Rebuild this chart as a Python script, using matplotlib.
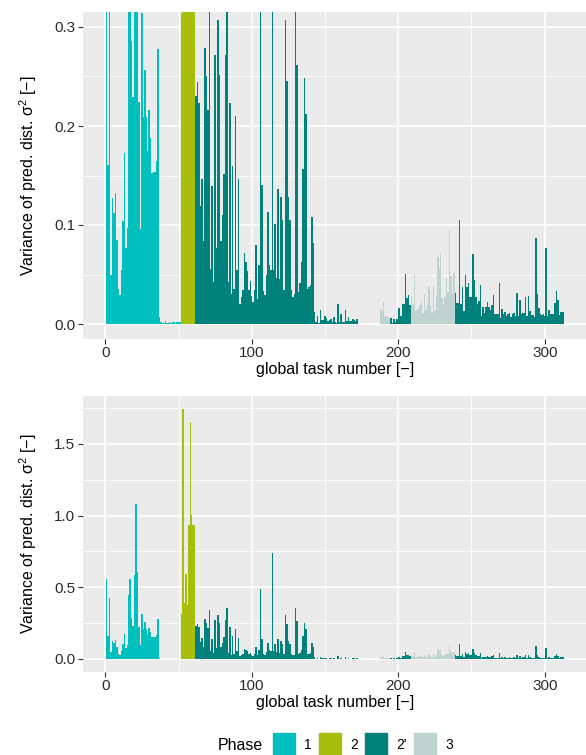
import numpy as np
import matplotlib

matplotlib.use("agg")

import matplotlib.pyplot as plt
from matplotlib.patches import Rectangle

plt.rcParams["font.family"] = ["Liberation Sans", "DejaVu Sans"]
plt.rcParams["mathtext.fontset"] = "custom"
plt.rcParams["mathtext.rm"] = "Liberation Sans"

# variance per task, split by phase segment (tasks 1..313, 173-187 have no value)
var_p1 = [0.558, 0.161, 0.425, 0.050, 0.127, 0.112, 0.132, 0.085, 0.035, 0.029,
          0.055, 0.104, 0.173, 0.077, 0.097, 0.446, 0.558, 0.286, 0.229, 0.586,
          1.081, 0.607, 0.224, 0.096, 0.314, 0.209, 0.257, 0.209, 0.175, 0.216,
          0.188, 0.153, 0.154, 0.154, 0.165, 0.278,
          0.007, 0.002, 0.001, 0.001, 0.003, 0.001, 0.001, 0.002, 0.001, 0.002,
          0.002, 0.001, 0.002, 0.002, 0.002]
var_p2 = [0.314, 1.743, 0.391, 0.593, 0.377, 0.934, 1.653, 1.004, 0.934, 0.934]
var_p2b_a = [0.230, 0.244, 0.223, 0.119, 0.146, 0.084, 0.279, 0.251, 0.216, 0.342,
             0.056, 0.139, 0.042, 0.272, 0.077, 0.307,
             0.252, 0.084, 0.110, 0.152, 0.272, 0.356, 0.042, 0.223, 0.030, 0.160,
             0.035, 0.210, 0.055, 0.146, 0.020, 0.027, 0.034, 0.072, 0.063, 0.054,
             0.034, 0.043, 0.028, 0.022, 0.034, 0.080, 0.025, 0.060, 0.488, 0.140,
             0.033, 0.029, 0.049, 0.113, 0.060, 0.055, 0.739, 0.055, 0.101, 0.046,
             0.136, 0.045, 0.128, 0.105, 0.034, 0.307, 0.245, 0.128, 0.105, 0.034,
             0.027, 0.030, 0.356, 0.262, 0.032, 0.041, 0.063, 0.157, 0.248, 0.212,
             0.035, 0.037, 0.039, 0.108, 0.082, 0.012,
             0.002, 0.008, 0.001, 0.014, 0.004, 0.004, 0.008, 0.006, 0.003, 0.004,
             0.005, 0.002, 0.007, 0.002, 0.001, 0.020, 0.002, 0.010, 0.002, 0.002,
             0.014, 0.003, 0.007, 0.003, 0.003, 0.005, 0.004, 0.003, 0.005]
var_gap = [np.nan] * 15
var_p3_a = [0.015, 0.013, 0.022, 0.008, 0.007, 0.007, 0.005]
var_p2b_b = [0.006, 0.001, 0.005, 0.002, 0.005, 0.016, 0.016, 0.008, 0.020, 0.020,
             0.051, 0.026, 0.029, 0.019]
var_p3_b = [0.027, 0.019, 0.049, 0.013, 0.015, 0.015, 0.019, 0.023, 0.011, 0.030,
            0.014, 0.019, 0.037, 0.019, 0.011, 0.038, 0.013, 0.027, 0.068, 0.057,
            0.072, 0.026, 0.019, 0.027, 0.045, 0.032, 0.095, 0.048, 0.031, 0.052]
var_p2b_c = [0.031, 0.021, 0.021, 0.105, 0.020, 0.037, 0.013, 0.049, 0.037, 0.041,
             0.027, 0.027, 0.071, 0.044, 0.027, 0.020, 0.023, 0.039, 0.008, 0.017,
             0.011, 0.017, 0.022, 0.017, 0.014, 0.019, 0.029, 0.010, 0.010, 0.010,
             0.041, 0.006, 0.015, 0.010, 0.012, 0.008, 0.010, 0.011, 0.007, 0.010,
             0.011, 0.008, 0.031, 0.008, 0.024, 0.010, 0.011, 0.011, 0.027, 0.008,
             0.028, 0.013, 0.009, 0.009, 0.007, 0.087, 0.030, 0.016, 0.010, 0.009,
             0.010, 0.008, 0.077, 0.008, 0.014, 0.010, 0.010, 0.010, 0.021, 0.033,
             0.024, 0.009, 0.012, 0.012, 0.012]

segments = [("1", var_p1), ("2", var_p2), ("2'", var_p2b_a), (None, var_gap),
            ("3", var_p3_a), ("2'", var_p2b_b), ("3", var_p3_b), ("2'", var_p2b_c)]

phase_names = ["1", "2", "2'", "3"]
phase_colors = {"1": "#00C0BF", "2": "#A7BF0B", "2'": "#00817C", "3": "#BFD3D1"}

values = []
phases = []
for ph, vals in segments:
    values += vals
    phases += [ph] * len(vals)
values = np.array(values)
tasks = np.arange(1, len(values) + 1)
colors = [phase_colors.get(p, "none") for p in phases]

W, H = 586, 755
fig = plt.figure(figsize=(W / 100, H / 100), dpi=100)


def panel(px_top, px_bottom, ylim, yticks, yminor):
    ax = fig.add_axes([83.1 / W, 1 - px_bottom / H, 504.3 / W, (px_bottom - px_top) / H])
    ax.set_facecolor("#EBEBEB")
    ax.bar(tasks, values, width=1.0, color=colors, linewidth=0, zorder=3)
    ax.set_xlim(-15.15, 329.15)
    ax.set_ylim(*ylim)
    ax.set_xticks([0, 100, 200, 300])
    ax.set_xticks([50, 150, 250], minor=True)
    ax.set_yticks(yticks)
    ax.set_yticks(yminor, minor=True)
    ax.grid(which="major", color="white", linewidth=1.2, zorder=0)
    ax.grid(which="minor", color="white", linewidth=0.6, zorder=0)
    ax.set_axisbelow(True)
    for s in ax.spines.values():
        s.set_visible(False)
    ax.tick_params(which="major", length=3.5, width=0.8, color="#333333",
                   labelsize=11, labelcolor="#2b2b2b", pad=2)
    ax.tick_params(which="minor", length=0)
    ax.set_xlabel("global task number [\u2212]", fontsize=11.5, labelpad=1)
    ax.set_ylabel("Variance of pred. dist. \u03c3$^{2}$ [\u2212]", fontsize=11.5, labelpad=11)
    return ax


ax1 = panel(12.15, 338.85, (-0.015, 0.315), [0, 0.1, 0.2, 0.3], [0.05, 0.15, 0.25])
ax1.set_yticklabels(["0.0", "0.1", "0.2", "0.3"])

ax2 = panel(395.8, 671.5, (-0.0874, 1.8354), [0, 0.5, 1.0, 1.5], [0.25, 0.75, 1.25, 1.75])
ax2.set_yticklabels(["0.0", "0.5", "1.0", "1.5"])

# legend at the bottom
fig.text(218 / W, 1 - 745 / H, "Phase", fontsize=11.5, va="center", ha="left")
key_x = [273, 319, 365, 414]
for name, kx in zip(phase_names, key_x):
    fig.patches.append(Rectangle((kx / W, 1 - 755 / H), 22 / W, 22 / H,
                                 transform=fig.transFigure, color=phase_colors[name]))
    fig.text((kx + 31) / W, 1 - 745 / H, name, fontsize=10, va="center", ha="left")

fig.savefig("out.png", dpi=100)
